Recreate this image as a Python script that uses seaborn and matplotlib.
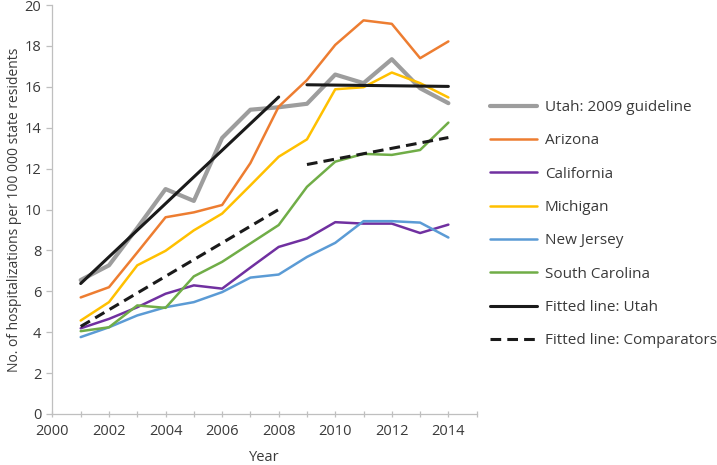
import numpy as np
import pandas as pd
import matplotlib
matplotlib.use("Agg")
import matplotlib.pyplot as plt
import seaborn as sns
from matplotlib.ticker import MultipleLocator

# ---------------- data ----------------
years = list(range(2001, 2015))
utah = [6.55, 7.27, 9.1, 11.0, 10.42, 13.5, 14.88, 15.0, 15.17, 16.6, 16.18, 17.35, 15.93, 15.2]
arizona = [5.7, 6.2, 7.9, 9.62, 9.86, 10.22, 12.27, 15.03, 16.33, 18.05, 19.25, 19.08, 17.4, 18.22]
california = [4.19, 4.65, 5.22, 5.88, 6.29, 6.13, 7.16, 8.17, 8.58, 9.38, 9.31, 9.31, 8.85, 9.26]
michigan = [4.57, 5.47, 7.27, 7.98, 8.98, 9.8, 11.18, 12.58, 13.43, 15.88, 15.98, 16.7, 16.18, 15.48]
new_jersey = [3.76, 4.24, 4.82, 5.22, 5.47, 5.96, 6.67, 6.82, 7.68, 8.37, 9.43, 9.43, 9.36, 8.63]
south_carolina = [4.05, 4.24, 5.31, 5.19, 6.73, 7.44, 8.34, 9.24, 11.11, 12.34, 12.72, 12.67, 12.91, 14.25]

# fitted lines (segment endpoints)
fit_utah_pre_x = [2001, 2008]
fit_utah_pre_y = [6.38, 15.5]
fit_utah_post_x = [2009, 2014]
fit_utah_post_y = [16.1, 16.02]
fit_comp_pre_x = [2001, 2008]
fit_comp_pre_y = [4.28, 10.0]
fit_comp_post_x = [2009, 2014]
fit_comp_post_y = [12.2, 13.52]

series_names = ["Utah: 2009 guideline", "Arizona", "California", "Michigan",
                "New Jersey", "South Carolina"]
series_values = [utah, arizona, california, michigan, new_jersey, south_carolina]
colors = ["#9d9d9d", "#ed7d31", "#7030a0", "#ffc000", "#5b9bd5", "#70ad47"]
widths = [3.0, 1.8, 1.8, 1.8, 1.8, 1.8]

# ---------------- style ----------------
sns.set_theme(style="white")
plt.rcParams["font.family"] = ["Open Sans", "DejaVu Sans"]
text_color = "#3a3a3a"
axis_color = "#bfbfbf"

fig = plt.figure(figsize=(7.17, 4.65), dpi=100)
ax = fig.add_axes([0.0731, 0.1097, 0.5917, 0.8795])

for name, vals, c, w in zip(series_names, series_values, colors, widths):
    df = pd.DataFrame({"Year": years, "Value": vals})
    sns.lineplot(data=df, x="Year", y="Value", color=c, linewidth=w, label=name, ax=ax)

fit_color = "#1a1a1a"
sns.lineplot(x=fit_utah_pre_x, y=fit_utah_pre_y, color=fit_color, linewidth=2.2,
             label="Fitted line: Utah", ax=ax)
sns.lineplot(x=fit_utah_post_x, y=fit_utah_post_y, color=fit_color, linewidth=2.2, ax=ax)
sns.lineplot(x=fit_comp_pre_x, y=fit_comp_pre_y, color=fit_color, linewidth=2.2,
             label="Fitted line: Comparators", ax=ax)
sns.lineplot(x=fit_comp_post_x, y=fit_comp_post_y, color=fit_color, linewidth=2.2, ax=ax)
# dashed style for comparator fitted lines
for line in ax.get_lines()[-2:]:
    line.set_dashes((3.5, 2.0))
    line.set_dash_capstyle("butt")

ax.set_xlim(2000, 2015)
ax.set_ylim(0, 20)
ax.xaxis.set_major_locator(MultipleLocator(2))
ax.xaxis.set_minor_locator(MultipleLocator(1))
ax.yaxis.set_major_locator(MultipleLocator(2))

for s in ["top", "right"]:
    ax.spines[s].set_visible(False)
for s in ["left", "bottom"]:
    ax.spines[s].set_color(axis_color)
    ax.spines[s].set_linewidth(0.9)

ax.tick_params(axis="x", which="both", direction="inout", length=5, width=0.9,
               color=axis_color, labelcolor=text_color, labelsize=10.5, pad=5, bottom=True)
ax.tick_params(axis="y", which="both", direction="out", length=4, width=0.9,
               color=axis_color, labelcolor=text_color, labelsize=10.5, pad=4, left=True)

ax.set_xlabel("Year", fontsize=10.5, color=text_color)
ax.set_ylabel("No. of hospitalizations per 100 000 state residents", fontsize=10,
              color=text_color)
ax.yaxis.set_label_coords(-0.072, 0.5)
ax.xaxis.set_label_coords(0.5, -0.088)

ax.legend(loc="upper left", bbox_to_anchor=(490 / 717, 1 - 100 / 465),
          bbox_transform=fig.transFigure, frameon=False, fontsize=11,
          handlelength=3.07, handletextpad=0.52, labelspacing=1.2, borderpad=0,
          borderaxespad=0, labelcolor=text_color)

fig.savefig("out.png", dpi=100)
